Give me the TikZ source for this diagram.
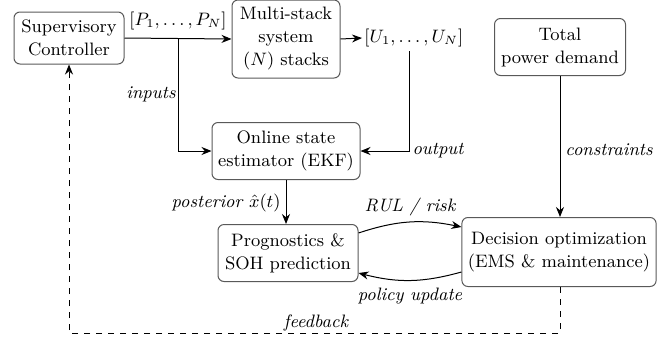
\documentclass[tikz,border=0pt]{standalone}
\usepackage{tikz}
\usetikzlibrary{positioning, arrows.meta, calc}
\usepackage{xcolor}
\newcommand{\diagfont}{\fontsize{9}{11.5}\selectfont}
\tikzset{
  block/.style={draw=black!65, rounded corners=3pt, align=center,
                inner sep=3pt, line width=0.5pt},
  arrow/.style={-{Stealth[length=5pt, width=4pt]}, draw=black, line width=0.5pt},
  fbarrow/.style={arrow, dashed},
  label/.style={font=\diagfont\itshape, align=center, text=black},
}
\begin{document}
\begin{tikzpicture}[x=0.5pt, y=-0.5pt, font=\diagfont]
\useasboundingbox (0,0) rectangle (667,343);

%% ====================  TOP ROW  ====================

\node[block, minimum width=55pt, minimum height=26pt]
  (sup) at (69,38) {Supervisory\\Controller};
\node[block, minimum width=54pt, minimum height=39pt]
  (ms) at (286,39) {Multi-stack\\system\\$(N)$ stacks};
\node[block, minimum width=65.5pt, minimum height=28.5pt]
  (tot) at (560,47) {Total\\power demand};

\node (pvec) at (178,21) {$[P_1,\dots,P_N]$};
\node[anchor=west, inner sep=1pt] (uvec) at (362,38) {$[U_1,\dots,U_N]$};

%% ====================  MIDDLE / BOTTOM  ====================

\node[block, minimum width=74pt, minimum height=28.5pt]
  (est) at (286,151) {Online state\\estimator (EKF)};
\node[block, minimum width=70pt, minimum height=28.5pt]
  (prog) at (288,253) {Prognostics \&\\SOH prediction};
\node[block, minimum width=95.5pt, minimum height=34.5pt]
  (dec) at (559,252) {Decision optimization\\(EMS \& maintenance)};

%% branch points
\coordinate (inbr) at (178,38);
\coordinate (outbr) at (409,51);

%% ====================  ARROWS  ====================

\draw[arrow] (sup.east) -- (ms.west);
\draw[arrow] (ms.east) -- (uvec.west);
\draw[arrow] (inbr) |- (est.west);
\draw[arrow] (outbr) |- (est.east);
\draw[arrow] (est.south) -- (prog.north -| est.south);
\draw[arrow] (tot.south) -- (tot.south |- dec.north);

\draw[arrow] ([yshift=10pt]prog.east) to[bend left=15] ([yshift=12.5pt]dec.west);
\draw[arrow] ([yshift=-10pt]dec.west) to[bend left=15] ([yshift=-10pt]prog.east);

\draw[fbarrow] (tot.south |- dec.south) -- ++(0,46) -| (sup.south);

%% ====================  LABELS  ====================

\node[label] (inlab) at (151,94) {inputs};
\node[label] (outlab) at (438,151) {output};
\node[label] (conlab) at (609,150) {constraints};
\node[label, anchor=east, inner sep=1pt] (postlab) at (283,203) {posterior $\hat{x}(t)$};
\node[label] (rullab) at (410,207) {RUL / risk};
\node[label] (pollab) at (410,296) {policy update};
\node[label] (fblab) at (316,323) {feedback};

\end{tikzpicture}
\end{document}
